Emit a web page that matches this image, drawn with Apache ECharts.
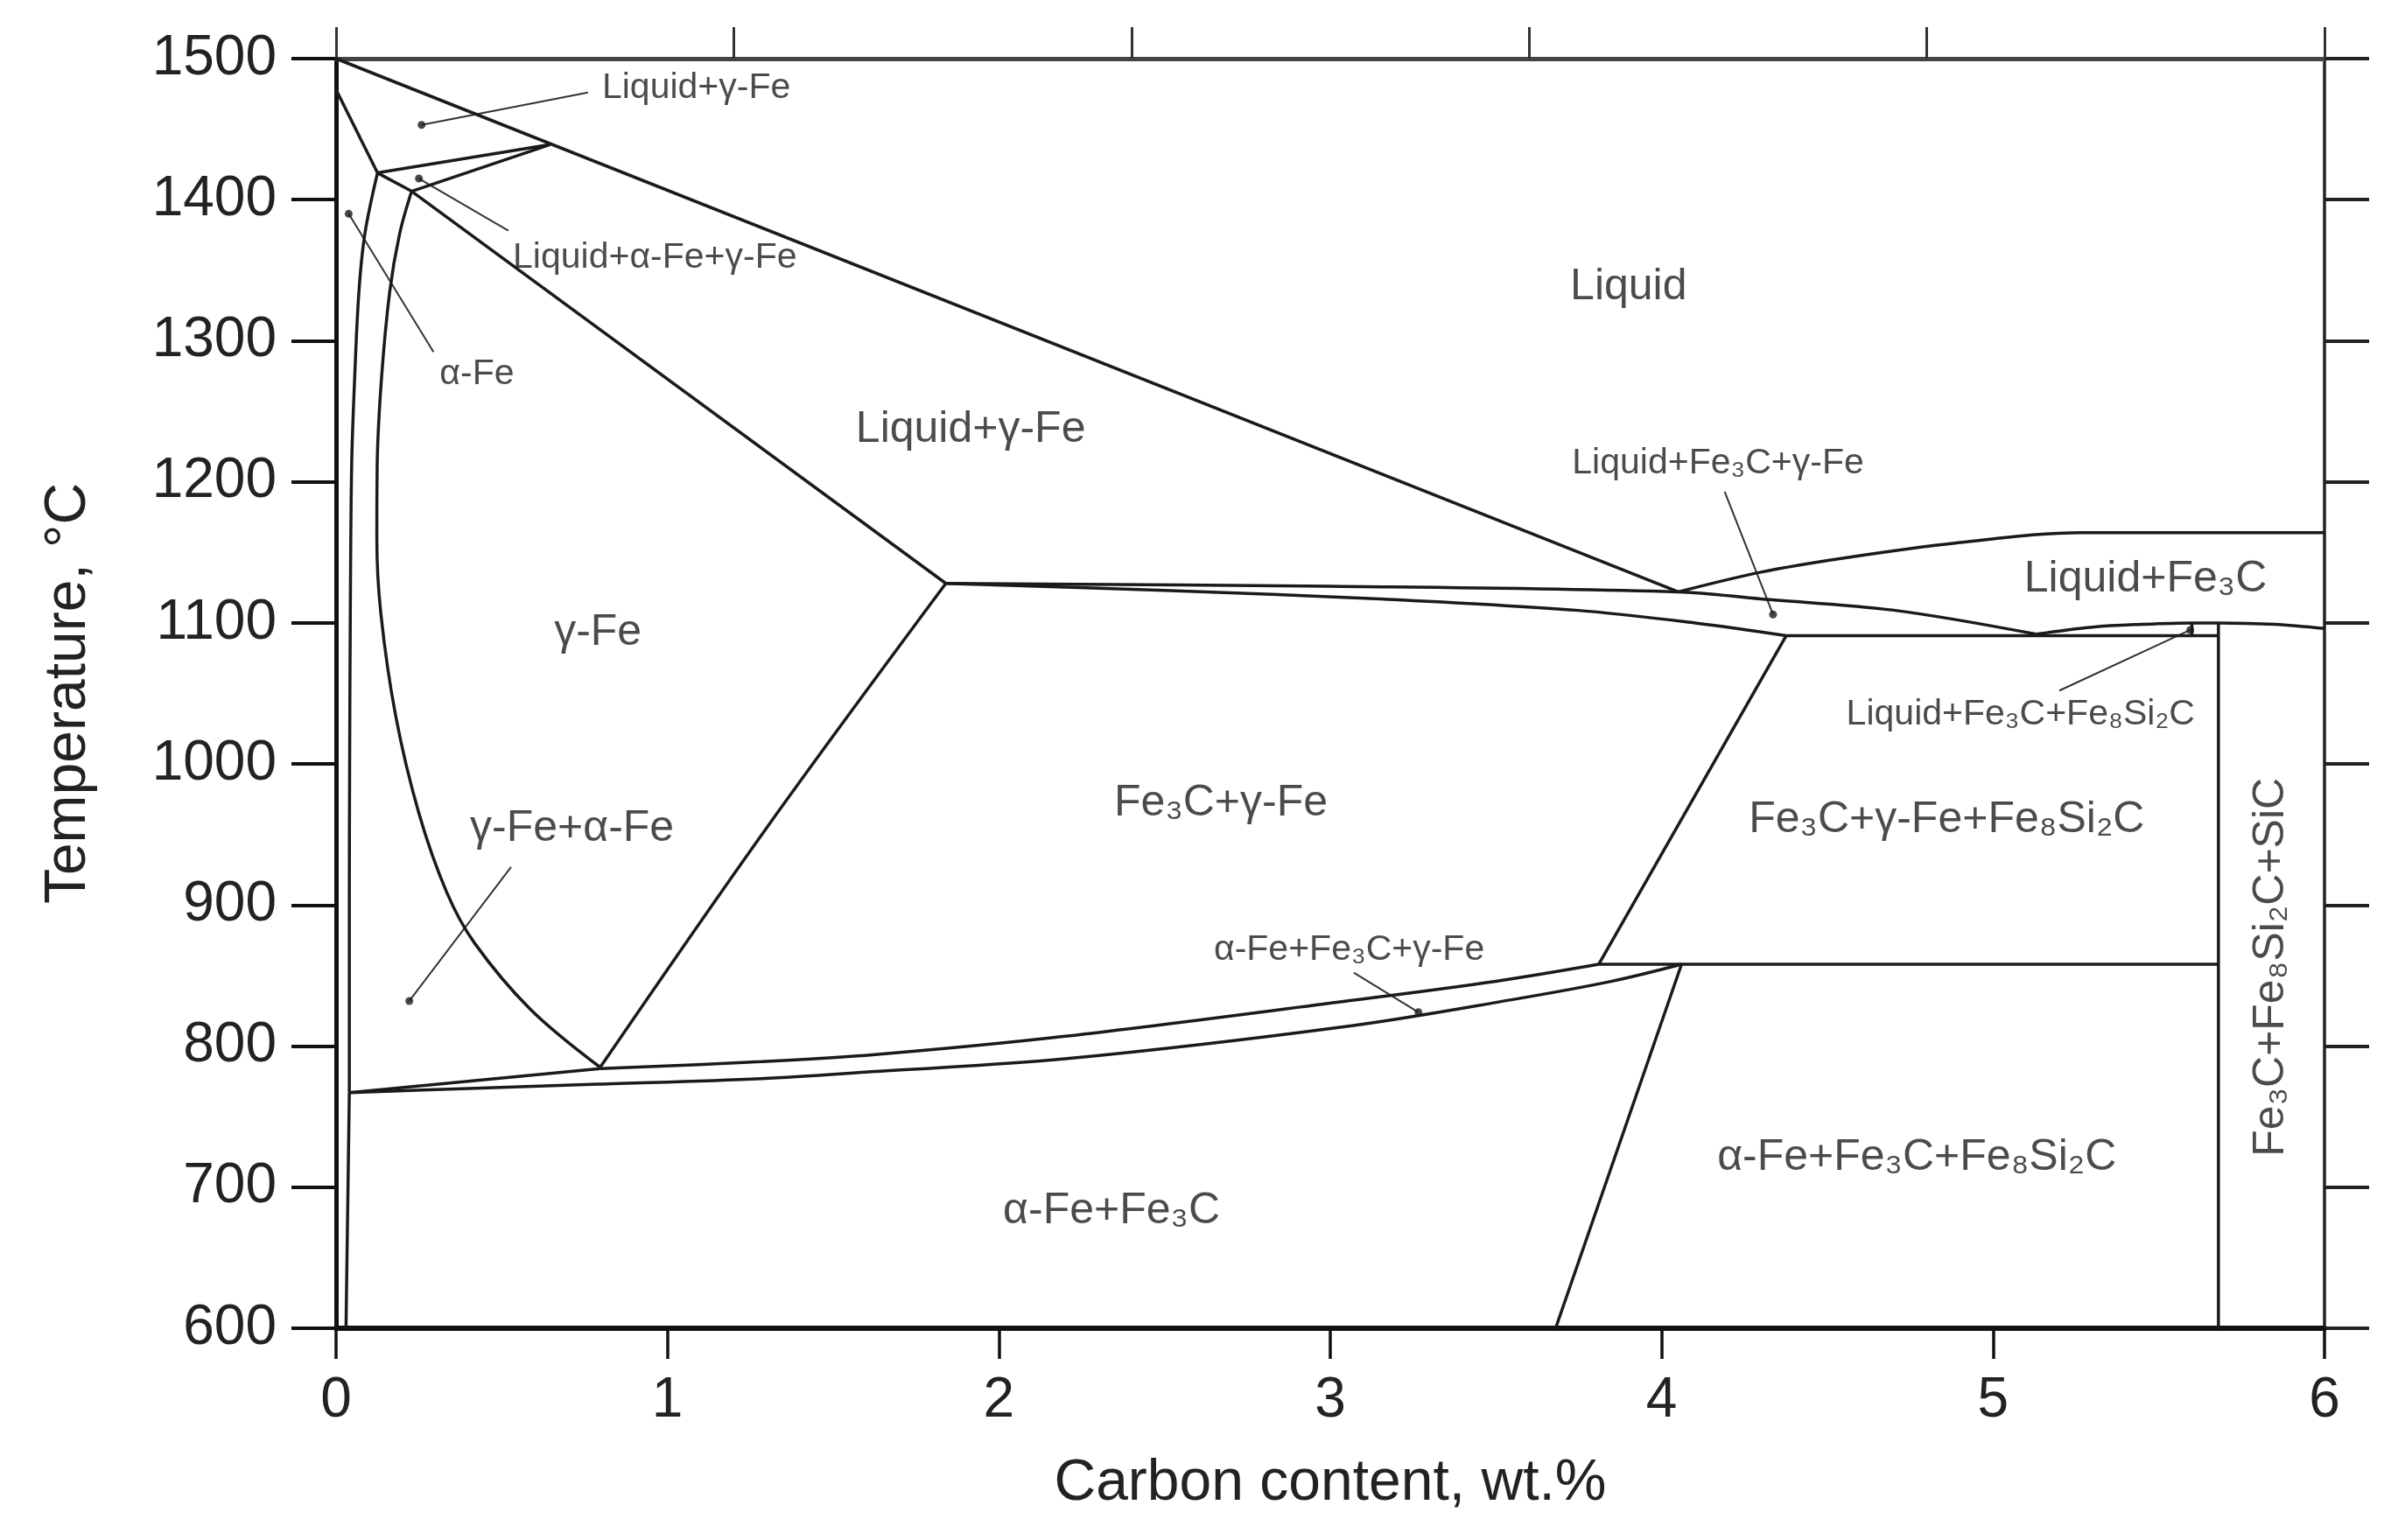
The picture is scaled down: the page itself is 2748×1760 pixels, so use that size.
<!DOCTYPE html>
<html><head><meta charset="utf-8">
<script src="https://cdn.jsdelivr.net/npm/echarts@6/dist/echarts.min.js"></script>
<style>html,body{margin:0;padding:0;background:#fff}#c{width:2748px;height:1760px}</style>
</head><body><div id="c"></div>
<script>
// ---- axis ticks ----
const xTickLabels = ['0','1','2','3','4','5','6'];
const yTickLabels = ['600','700','800','900','1000','1100','1200','1300','1400','1500'];

// ---- phase boundaries [wt.% C, °C] ----
const liquidusGamma     = [[0,1500],[4.05,1122]];
const liquidusFe3C      = [[4.05,1122],[4.3,1136],[4.55,1146],[4.9,1157],[5.27,1164],[6.0,1164]];
const deltaSolidus      = [[0,1478],[0.125,1419]];
const peritecticUpper   = [[0.125,1419],[0.645,1439]];
const peritecticLower   = [[0.228,1406],[0.645,1439]];
const peritecticTie     = [[0.125,1419],[0.228,1406]];
const alphaBoundary     = [[0.125,1419],[0.087,1376],[0.069,1335],[0.056,1273],[0.047,1211],[0.043,1107],[0.041,1000],[0.04,900],[0.04,767]];
const alphaSolvus       = [[0.04,767],[0.03,600]];
const gammaBoundary     = [[0.228,1406],[0.192,1376],[0.162,1335],[0.137,1273],[0.124,1211],[0.123,1160],[0.135,1107],[0.18,1034],[0.25,965],[0.334,909],[0.418,873],[0.587,826],[0.797,785]];
const gammaSolidus      = [[0.228,1406],[1.84,1128]];
const gammaSolvus       = [[0.797,785],[1.3,955],[1.84,1128]];
const eutecticLine      = [[1.84,1128],[3.0,1126],[4.05,1122],[4.3,1117],[4.7,1109],[5.13,1092]];
const gammaSolidusLow   = [[1.84,1128],[2.5,1123],[3.15,1117],[3.74,1109],[4.1,1100],[4.376,1091]];
const threePhaseHoriz   = [[4.376,1091],[5.68,1091]];
const fe3cLiquidLower   = [[5.13,1092],[5.3,1097],[5.45,1099],[5.6,1100],[5.68,1100],[5.85,1099],[6.0,1096]];
const smallTie          = [[5.6,1091],[5.6,1100]];
const siliconBoundary   = [[5.68,1100],[5.68,600]];
const ternaryUpperSteep = [[4.376,1091],[3.81,858]];
const horiz858          = [[3.81,858],[5.68,858]];
const ternaryLowerSteep = [[4.06,858],[3.68,600]];
const eutectoidUpperL   = [[0.04,767],[0.797,784]];
const eutectoidUpperR   = [[0.797,784],[1.283,789],[1.626,794],[2.2,807],[3.05,832],[3.5,846],[3.81,858]];
const eutectoidLower    = [[0.04,767],[0.4,770],[0.79,773],[1.283,777],[1.626,782],[2.2,791],[3.05,814],[3.55,833],[3.85,846],[4.06,858]];

// ---- region labels ----
const bigLabelTexts = ['Liquid','Liquid+γ-Fe','γ-Fe','Fe₃C+γ-Fe','Fe₃C+γ-Fe+Fe₈Si₂C','Liquid+Fe₃C','α-Fe+Fe₃C','α-Fe+Fe₃C+Fe₈Si₂C','γ-Fe+α-Fe'];
const bigLabelAt    = [[3.90,1338],[1.915,1237],[0.79,1093],[2.67,972],[4.86,960],[5.46,1131],[2.34,683],[4.77,721],[0.712,954]];
const sideLabelText = 'Fe₃C+Fe₈Si₂C+SiC';
const sideLabelAt   = [5.84,856];
const smallLabelTexts = ['Liquid+γ-Fe','Liquid+α-Fe+γ-Fe','α-Fe','α-Fe+Fe₃C+γ-Fe','Liquid+Fe₃C+γ-Fe','Liquid+Fe₃C+Fe₈Si₂C'];
const smallLabelAt    = [[1.087,1479],[0.962,1359],[0.425,1276],[3.057,868],[4.17,1213],[5.083,1035]];
// leader lines: dot -> label end
const leaderDots = [[0.258,1453],[0.25,1415],[0.038,1390],[0.221,832],[3.266,824],[4.336,1106],[5.595,1095]];
const leaderEnds = [[0.76,1476],[0.52,1378],[0.294,1292],[0.528,927],[3.071,852],[4.19,1193],[5.2,1052]];

const FONT = '"Liberation Sans", Arial, "DejaVu Sans", sans-serif';
const INK = '#1a1a1a';

const straight = [liquidusGamma, deltaSolidus, peritecticUpper, peritecticLower, peritecticTie, alphaSolvus,
  threePhaseHoriz, smallTie, siliconBoundary, ternaryUpperSteep, horiz858, ternaryLowerSteep, eutectoidUpperL, gammaSolidus];
const curved = [liquidusFe3C, alphaBoundary, gammaBoundary, gammaSolvus, eutecticLine, gammaSolidusLow,
  fe3cLiquidLower, eutectoidUpperR, eutectoidLower];

const series = [];
straight.forEach(d => series.push({type:'line', data:d, symbol:'none', silent:true, smooth:false,
  lineStyle:{color:INK, width:3.5}, z:3}));
curved.forEach(d => series.push({type:'line', data:d, symbol:'none', silent:true, smooth:0.35,
  lineStyle:{color:INK, width:3.5}, z:3}));
leaderDots.forEach((p,i) => series.push({type:'line', data:[p, leaderEnds[i]], symbol:'none', silent:true,
  lineStyle:{color:'#333', width:2}, z:2}));
series.push({type:'scatter', data:leaderDots, symbol:'circle', symbolSize:9, itemStyle:{color:INK}, silent:true, z:4});
series.push({type:'scatter', symbolSize:0, silent:true, z:5,
  data: bigLabelTexts.map((t,i)=>({value:bigLabelAt[i], label:{formatter:t}})),
  label:{show:true, position:'inside', align:'center', verticalAlign:'middle', fontSize:50, color:'#1e1e1e', fontFamily:FONT}});
series.push({type:'scatter', symbolSize:0, silent:true, z:5,
  data: smallLabelTexts.map((t,i)=>({value:smallLabelAt[i], label:{formatter:t}})),
  label:{show:true, position:'inside', align:'center', verticalAlign:'middle', fontSize:41, color:'#1e1e1e', fontFamily:FONT}});
series.push({type:'scatter', symbolSize:0, silent:true, z:5,
  data:[{value:sideLabelAt, label:{formatter:sideLabelText}}],
  label:{show:true, position:'inside', align:'center', verticalAlign:'middle', rotate:90, fontSize:50, color:'#1e1e1e', fontFamily:FONT}});

const chart = echarts.init(document.getElementById('c'), null, {renderer:'canvas'});
chart.setOption({
  animation:false,
  backgroundColor:'#fff',
  grid:{left:384, right:92, top:67, bottom:242, containLabel:false},
  xAxis:[
    {type:'value', position:'bottom', min:0, max:6, interval:1,
     name:'Carbon content, wt.%', nameLocation:'middle', nameGap:145,
     nameTextStyle:{fontSize:66, color:'#222', fontFamily:FONT},
     axisLine:{show:true, onZero:false, lineStyle:{color:'#111', width:6}},
     axisTick:{show:true, length:35, lineStyle:{color:'#111', width:3.5}},
     axisLabel:{fontSize:64, margin:51, color:'#222', fontFamily:FONT,
       formatter:(v)=>xTickLabels[Math.round(v)]},
     splitLine:{show:false}},
    {type:'value', position:'top', min:0, max:6, interval:1.2,
     axisLine:{show:true, onZero:false, lineStyle:{color:'#444', width:5}},
     axisTick:{show:true, length:36, lineStyle:{color:'#333', width:3}},
     axisLabel:{show:false}, splitLine:{show:false}}
  ],
  yAxis:[
    {type:'value', position:'left', min:600, max:1500, interval:100,
     name:'Temperature, °C', nameLocation:'middle', nameGap:272, nameRotate:90,
     nameTextStyle:{fontSize:66, color:'#222', fontFamily:FONT},
     axisLine:{show:true, onZero:false, lineStyle:{color:'#111', width:5}},
     axisTick:{show:true, length:51, lineStyle:{color:'#111', width:4}},
     axisLabel:{fontSize:64, margin:68, color:'#222', fontFamily:FONT,
       formatter:(v)=>yTickLabels[Math.round((v-600)/100)]},
     splitLine:{show:false}},
    {type:'value', position:'right', min:600, max:1500, interval:100,
     axisLine:{show:true, onZero:false, lineStyle:{color:'#222', width:3.5}},
     axisTick:{show:true, length:51, lineStyle:{color:'#222', width:4}},
     axisLabel:{show:false}, splitLine:{show:false}}
  ],
  series: series
});
</script>
</body></html>
